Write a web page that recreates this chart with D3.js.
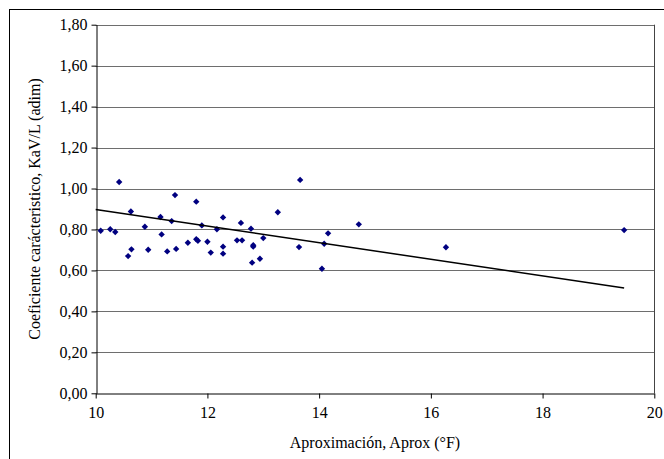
<!DOCTYPE html>
<html>
<head>
    <meta charset="utf-8" />
    <title>KaV/L vs Aprox</title>
    <script src="https://d3js.org/d3.v7.min.js"></script>
    <style>
        body { margin: 0; background: #fff; }
        svg text { font-family: 'Liberation Serif', 'DejaVu Serif', serif; fill: #000; }
    </style>
</head>
<body>
    <div class="chart"></div>
    <script>
        // approach (°F) of each measurement
        var aprox = [10.09, 10.26, 10.35, 10.42, 10.58, 10.64, 10.63, 10.88, 10.94, 11.16,
            11.18, 11.28, 11.36, 11.42, 11.44, 11.65, 11.80, 11.80, 11.83, 11.90,
            12.00, 12.06, 12.17, 12.28, 12.28, 12.28, 12.53, 12.62, 12.60, 12.78,
            12.82, 12.82, 12.80, 12.94, 13.00, 13.26, 13.66, 13.64, 14.05, 14.09,
            14.16, 14.71, 16.27, 19.46];

        // characteristic coefficient KaV/L
        var kavl = [0.794, 0.801, 0.788, 1.032, 0.670, 0.703, 0.888, 0.813, 0.701, 0.861,
            0.776, 0.693, 0.841, 0.968, 0.705, 0.735, 0.936, 0.752, 0.745, 0.820,
            0.740, 0.687, 0.801, 0.859, 0.716, 0.682, 0.747, 0.747, 0.832, 0.804,
            0.723, 0.716, 0.638, 0.657, 0.758, 0.884, 1.042, 0.714, 0.608, 0.730,
            0.781, 0.825, 0.713, 0.797];

        // linear trend line end points (as drawn on the original)
        var trendX = [10, 19.46];
        var trendY = [0.898, 0.514];

        var xTicks = [10, 12, 14, 16, 18, 20];
        var yTicks = [0, 0.2, 0.4, 0.6, 0.8, 1.0, 1.2, 1.4, 1.6, 1.8];

        const w = 664, h = 459;
        const pLeft = 95.7, pRight = 654.3, pTop = 24.7, pBottom = 393.3;
        const serif = "'Liberation Serif', 'DejaVu Serif', serif";

        let svg = d3.select('.chart')
            .append('svg')
            .attr('width', w)
            .attr('height', h);

        // outer chart frame
        svg.append('rect')
            .attr('x', 9.5).attr('y', 9.5)
            .attr('width', 700).attr('height', 500)
            .attr('fill', 'none')
            .attr('stroke', '#000')
            .attr('stroke-width', 1);

        let x = d3.scaleLinear().domain([10, 20]).range([pLeft, pRight]);
        let y = d3.scaleLinear().domain([0, 1.8]).range([pBottom, pTop]);

        const fmt = d => d3.format('.2f')(d).replace('.', ',');

        // gridlines
        svg.selectAll('.grid')
            .data(yTicks.slice(1))
            .enter()
            .append('line')
            .attr('x1', pLeft).attr('x2', pRight)
            .attr('y1', d => Math.round(y(d)) + 0.5)
            .attr('y2', d => Math.round(y(d)) + 0.5)
            .attr('stroke', '#6e6e6e')
            .attr('stroke-width', 1);

        // plot border right side
        svg.append('line')
            .attr('x1', Math.round(pRight) + 0.5).attr('x2', Math.round(pRight) + 0.5)
            .attr('y1', pTop).attr('y2', pBottom)
            .attr('stroke', '#444');

        // axes
        let xAxis = d3.axisBottom(x).tickValues(xTicks).tickSize(5).tickSizeOuter(0)
            .tickFormat(d3.format('d'));
        let yAxis = d3.axisLeft(y).tickValues(yTicks).tickSize(5).tickSizeOuter(0)
            .tickFormat(fmt);

        let gx = svg.append('g')
            .attr('transform', 'translate(0,' + (Math.round(pBottom) + 0.5) + ')')
            .attr('font-family', serif)
            .call(xAxis);
        gx.attr('font-family', serif).attr('font-size', 16);
        gx.selectAll('text').attr('dy', '1.05em');

        let gy = svg.append('g')
            .attr('transform', 'translate(' + (Math.round(pLeft) + 0.5) + ',0)')
            .call(yAxis);
        gy.attr('font-family', serif).attr('font-size', 16);
        gy.selectAll('text').attr('x', -9);

        svg.selectAll('.domain, .tick line').attr('stroke', '#000');

        // scatter points (diamonds)
        svg.selectAll('.pt')
            .data(aprox)
            .enter()
            .append('path')
            .attr('d', d3.symbol().type(d3.symbolDiamond2).size(26))
            .attr('transform', (d, i) => 'translate(' + x(d) + ',' + y(kavl[i]) + ')')
            .attr('fill', '#000080');

        // trend line
        svg.append('line')
            .attr('x1', x(trendX[0])).attr('y1', y(trendY[0]))
            .attr('x2', x(trendX[1])).attr('y2', y(trendY[1]))
            .attr('stroke', '#000')
            .attr('stroke-width', 1.5);

        // axis titles
        svg.append('text')
            .attr('x', (pLeft + pRight) / 2)
            .attr('y', 448)
            .attr('text-anchor', 'middle')
            .attr('font-family', serif)
            .attr('font-size', 16)
            .text('Aproximación, Aprox (°F)');

        svg.append('text')
            .attr('transform', 'translate(40,' + ((pTop + pBottom) / 2) + ') rotate(-90)')
            .attr('text-anchor', 'middle')
            .attr('font-family', serif)
            .attr('font-size', 16)
            .text('Coeficiente carácteristico, KaV/L (adim)');
    </script>
</body>
</html>
